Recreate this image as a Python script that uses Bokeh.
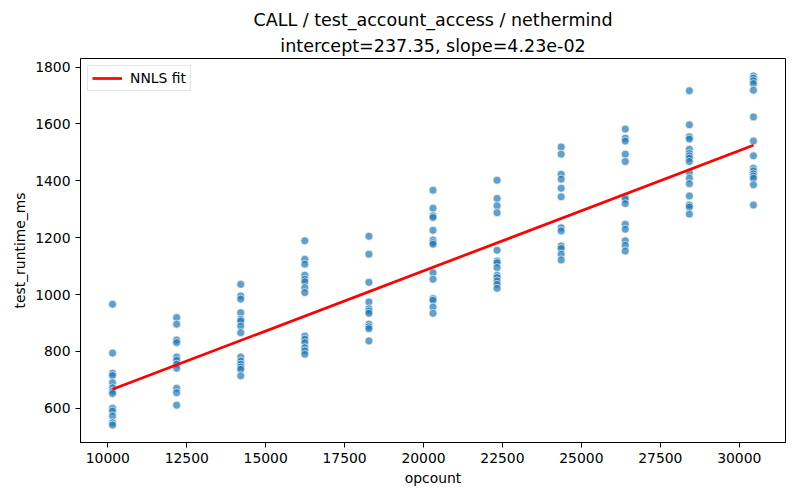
from bokeh.plotting import figure
from bokeh.models import Title, FixedTicker, Legend, LegendItem, ColumnDataSource, Range1d
from bokeh.embed import file_html
from bokeh.resources import INLINE

# ---- data ----
opcount_levels = [10150, 12180, 14210, 16240, 18270, 20300, 22330, 24360, 26390, 28420, 30450]
runtime_10150 = [966, 794, 723, 715, 690, 672, 660, 652, 600, 590, 573, 549, 541]
runtime_12180 = [919, 896, 840, 831, 780, 769, 755, 741, 670, 655, 611]
runtime_14210 = [1036, 995, 984, 936, 913, 907, 889, 866, 780, 766, 755, 745, 737, 714]
runtime_16240 = [1189, 1124, 1107, 1068, 1054, 1045, 1024, 1007, 854, 843, 831, 813, 802, 790]
runtime_18270 = [1205, 1142, 1043, 974, 950, 942, 934, 896, 887, 880, 837]
runtime_20300 = [1367, 1304, 1277, 1271, 1226, 1192, 1183, 1177, 1077, 1054, 986, 980, 956, 934]
runtime_22330 = [1402, 1338, 1312, 1288, 1156, 1118, 1112, 1095, 1068, 1060, 1048, 1036, 1022]
runtime_24360 = [1519, 1494, 1423, 1406, 1374, 1344, 1235, 1224, 1171, 1162, 1142, 1122]
runtime_26390 = [1582, 1550, 1540, 1494, 1468, 1344, 1335, 1320, 1247, 1230, 1189, 1173, 1153]
runtime_28420 = [1717, 1597, 1555, 1547, 1511, 1496, 1488, 1480, 1468, 1429, 1409, 1390, 1347, 1315, 1308, 1283]
runtime_30450 = [1769, 1761, 1752, 1742, 1719, 1625, 1540, 1488, 1444, 1435, 1425, 1417, 1409, 1386, 1315]

fit_intercept = 237.35
fit_slope = 4.23e-02

x_ticks = [10000, 12500, 15000, 17500, 20000, 22500, 25000, 27500, 30000]
y_ticks = [600, 800, 1000, 1200, 1400, 1600, 1800]

title_main = "CALL / test_account_access / nethermind"
title_sub = "intercept=237.35, slope=4.23e-02"

# ---- assemble ----
columns = [runtime_10150, runtime_12180, runtime_14210, runtime_16240, runtime_18270,
           runtime_20300, runtime_22330, runtime_24360, runtime_26390, runtime_28420,
           runtime_30450]
xs, ys = [], []
for lvl, col in zip(opcount_levels, columns):
    xs.extend([lvl] * len(col))
    ys.extend(col)

xmin, xmax = min(xs), max(xs)
ymin, ymax = min(ys), max(ys)
xpad = (xmax - xmin) * 0.05
ypad = (ymax - ymin) * 0.05

FONT = "DejaVu Sans"

p = figure(width=792, height=492, output_backend="svg", toolbar_location=None,
           x_range=Range1d(xmin - xpad, xmax + xpad),
           y_range=Range1d(ymin - ypad, ymax + ypad),
           min_border_left=80, min_border_right=7, min_border_bottom=50, min_border_top=58,
           title=title_main)

p.title.align = "center"
p.title.text_font = FONT
p.title.text_font_size = "17.5px"
p.title.text_font_style = "normal"
p.title.text_color = "black"
p.title.standoff = 1
p.add_layout(Title(text=title_sub, align="center", text_font=FONT, text_color="black",
                   text_font_size="17.5px", text_font_style="normal", standoff=6), "above")

src = ColumnDataSource(dict(x=xs, y=ys))
p.scatter("x", "y", source=src, size=8, fill_color="#1f77b4", fill_alpha=0.7,
          line_color="white", line_alpha=0.8, line_width=0.8)

fit_x = [xmin, xmax]
fit_y = [fit_intercept + fit_slope * v for v in fit_x]
fit_line = p.line(fit_x, fit_y, line_color="red", line_width=2.7)

legend = Legend(items=[LegendItem(label="NNLS fit", renderers=[fit_line])],
                location="top_left", margin=7, padding=4, spacing=0,
                glyph_width=30, glyph_height=16, label_standoff=8,
                label_text_font=FONT, label_text_font_size="13.9px",
                label_text_color="black", label_height=16,
                border_line_color="#cccccc", border_line_width=1,
                background_fill_alpha=0.8)
p.add_layout(legend)

p.grid.visible = False
p.outline_line_color = "black"
p.outline_line_alpha = 1
p.outline_line_width = 1

p.xaxis.ticker = FixedTicker(ticks=x_ticks)
p.yaxis.ticker = FixedTicker(ticks=y_ticks)
p.xaxis.axis_label = "opcount"
p.yaxis.axis_label = "test_runtime_ms"
for ax in (p.xaxis[0], p.yaxis[0]):
    ax.axis_line_color = "black"
    ax.major_tick_line_color = "black"
    ax.major_tick_out = 5
    ax.major_tick_in = 0
    ax.minor_tick_line_color = None
    ax.major_label_text_font = FONT
    ax.major_label_text_font_size = "13.9px"
    ax.major_label_text_color = "black"
    ax.major_label_standoff = 5
    ax.axis_label_text_font = FONT
    ax.axis_label_text_font_size = "13.9px"
    ax.axis_label_text_font_style = "normal"
    ax.axis_label_text_color = "black"
    ax.axis_label_standoff = 4

open("out.html", "w").write(file_html(p, INLINE))
